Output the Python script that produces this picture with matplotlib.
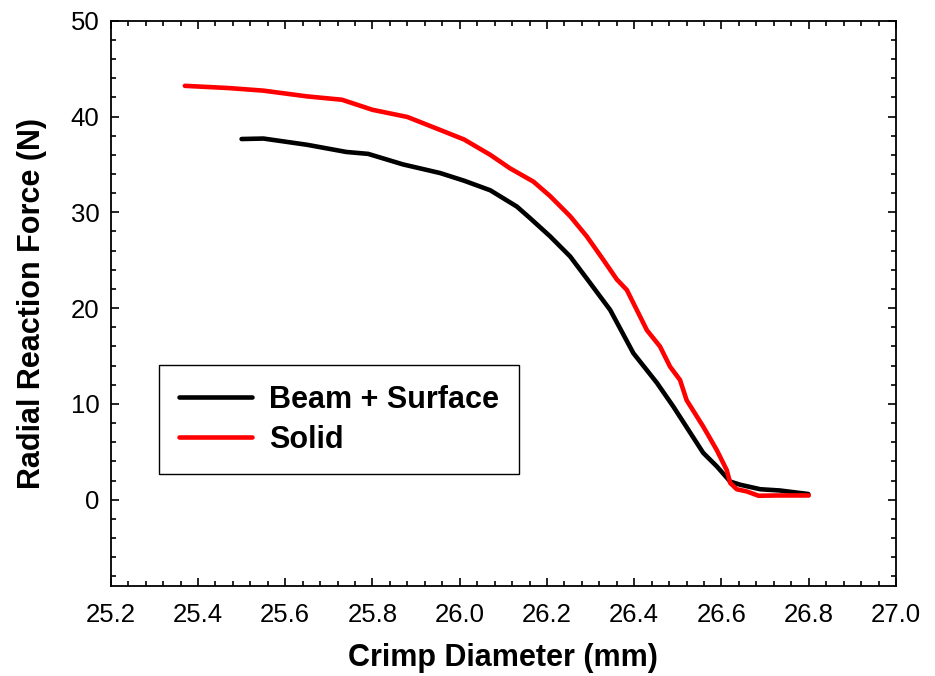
import numpy as np
import matplotlib
matplotlib.use("Agg")
import matplotlib.pyplot as plt
from matplotlib.ticker import MultipleLocator

# Valores
beam_x = [25.50, 25.55, 25.65, 25.74, 25.79, 25.87, 25.955, 26.01, 26.07,
          26.131, 26.161, 26.207, 26.253, 26.291, 26.345, 26.398, 26.452,
          26.49, 26.524, 26.558, 26.589, 26.62, 26.643, 26.689, 26.734, 26.799]
beam_y = [37.65, 37.7, 37.05, 36.3, 36.1, 35.0, 34.1, 33.3, 32.3,
          30.6, 29.4, 27.5, 25.4, 23.1, 19.8, 15.3, 12.2,
          9.7, 7.3, 4.9, 3.5, 1.9, 1.57, 1.1, 0.97, 0.6]

solid_x = [25.37, 25.47, 25.55, 25.65, 25.73, 25.80, 25.88, 25.955, 26.01,
           26.07, 26.115, 26.169, 26.207, 26.253, 26.291, 26.329, 26.36,
           26.383, 26.429, 26.459, 26.482, 26.505, 26.52, 26.558, 26.589,
           26.612, 26.62, 26.635, 26.658, 26.685, 26.727, 26.80]
solid_y = [43.2, 42.97, 42.7, 42.1, 41.75, 40.7, 39.95, 38.6, 37.6,
           36.0, 34.6, 33.2, 31.7, 29.6, 27.5, 25.05, 23.0,
           21.9, 17.7, 16.0, 13.9, 12.5, 10.4, 7.65, 5.2,
           3.1, 1.75, 1.1, 0.87, 0.42, 0.45, 0.45]

xticks = np.arange(25.2, 27.01, 0.2)
yticks = [0, 10, 20, 30, 40, 50]

plt.rcParams['font.family'] = ['Liberation Sans', 'DejaVu Sans']

fig = plt.figure(figsize=(9.35, 6.76), dpi=100)
ax = fig.add_axes([0.1184, 0.1331, 0.8399, 0.8363])

ax.plot(beam_x, beam_y, color='black', lw=3.3, label='Beam + Surface',
        solid_capstyle='round', solid_joinstyle='round')
ax.plot(solid_x, solid_y, color='#ff0000', lw=3.3, label='Solid',
        solid_capstyle='round', solid_joinstyle='round')

ax.set_xlim(25.2, 27.0)
ax.set_ylim(-9, 50)
ax.xaxis.set_minor_locator(MultipleLocator(0.04))
ax.yaxis.set_minor_locator(MultipleLocator(2))
ax.set_xticks(xticks)
ax.set_xticklabels([f'{v:.1f}' for v in xticks])
ax.set_yticks(yticks)

ax.tick_params(which='both', direction='in', top=True, right=True,
               labelsize=18.5, width=1.2)
ax.tick_params(axis='x', pad=12)
ax.tick_params(axis='y', pad=8)
ax.tick_params(which='major', length=6)
ax.tick_params(which='minor', length=3.6)
for s in ax.spines.values():
    s.set_linewidth(1.3)

ax.set_xlabel('Crimp Diameter (mm)', fontsize=22, fontweight='bold', labelpad=12)
ax.set_ylabel('Radial Reaction Force (N)', fontsize=22, fontweight='bold', labelpad=17)

leg = ax.legend(loc='upper left', bbox_to_anchor=(0.0615, 0.391), borderaxespad=0,
                fancybox=False, edgecolor='black', framealpha=1,
                prop={'size': 22, 'weight': 'bold'}, handlelength=2.4,
                handletextpad=0.55, labelspacing=0.32, borderpad=0.65)
leg.get_frame().set_linewidth(1.0)

fig.savefig('out.png', dpi=100)
